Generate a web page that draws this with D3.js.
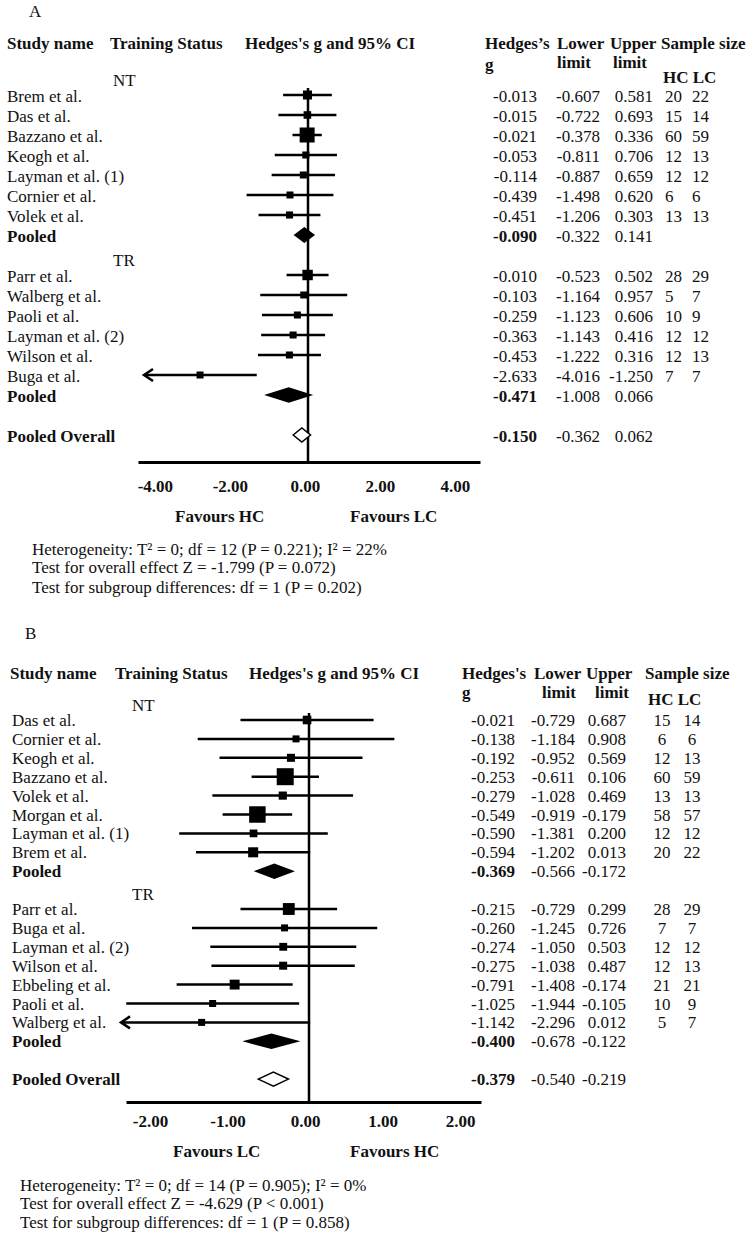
<!DOCTYPE html>
<html>
<head>
<meta charset="utf-8">
<script src="https://cdn.jsdelivr.net/npm/d3@7"></script>
<style>
  body { margin: 0; background: #fff; }
  text { font-family: "Liberation Serif", "Times New Roman", serif; fill: #111; }
</style>
</head>
<body>
<script>
// ---- panel A data (HC vs LC, training status subgroups)
var namesA = ['Brem et al.', 'Das et al.', 'Bazzano et al.', 'Keogh et al.', 'Layman et al. (1)', 'Cornier et al.', 'Volek et al.',
              'Parr et al.', 'Walberg et al.', 'Paoli et al.', 'Layman et al. (2)', 'Wilson et al.', 'Buga et al.'];
var groupsA = ['NT', 'NT', 'NT', 'NT', 'NT', 'NT', 'NT', 'TR', 'TR', 'TR', 'TR', 'TR', 'TR'];
var gA     = [-0.013, -0.015, -0.021, -0.053, -0.114, -0.439, -0.451, -0.010, -0.103, -0.259, -0.363, -0.453, -2.633];
var lowerA = [-0.607, -0.722, -0.378, -0.811, -0.887, -1.498, -1.206, -0.523, -1.164, -1.123, -1.143, -1.222, -4.016];
var upperA = [0.581, 0.693, 0.336, 0.706, 0.659, 0.620, 0.303, 0.502, 0.957, 0.606, 0.416, 0.316, -1.250];
var hcA = [20, 15, 60, 12, 12, 6, 13, 28, 5, 10, 12, 12, 7];
var lcA = [22, 14, 59, 13, 12, 6, 13, 29, 7, 9, 12, 13, 7];
var pooledGroupsA = ['NT', 'TR'];
var pooledGA = [-0.090, -0.471];
var pooledLowerA = [-0.322, -1.008];
var pooledUpperA = [0.141, 0.066];
var overallA = [-0.150, -0.362, 0.062];
var ticksA = [-4, -2, 0, 2, 4];
var favoursA = ['Favours HC', 'Favours LC'];
var notesA = ['Heterogeneity: T\u00b2 = 0; df = 12 (P = 0.221); I\u00b2 = 22%',
              'Test for overall effect Z = -1.799 (P = 0.072)',
              'Test for subgroup differences: df = 1 (P = 0.202)'];

// ---- panel B data
var namesB = ['Das et al.', 'Cornier et al.', 'Keogh et al.', 'Bazzano et al.', 'Volek et al.', 'Morgan et al.', 'Layman et al. (1)', 'Brem et al.',
              'Parr et al.', 'Buga et al.', 'Layman et al. (2)', 'Wilson et al.', 'Ebbeling et al.', 'Paoli et al.', 'Walberg et al.'];
var groupsB = ['NT', 'NT', 'NT', 'NT', 'NT', 'NT', 'NT', 'NT', 'TR', 'TR', 'TR', 'TR', 'TR', 'TR', 'TR'];
var gB     = [-0.021, -0.138, -0.192, -0.253, -0.279, -0.549, -0.590, -0.594, -0.215, -0.260, -0.274, -0.275, -0.791, -1.025, -1.142];
var lowerB = [-0.729, -1.184, -0.952, -0.611, -1.028, -0.919, -1.381, -1.202, -0.729, -1.245, -1.050, -1.038, -1.408, -1.944, -2.296];
var upperB = [0.687, 0.908, 0.569, 0.106, 0.469, -0.179, 0.200, 0.013, 0.299, 0.726, 0.503, 0.487, -0.174, -0.105, 0.012];
var hcB = [15, 6, 12, 60, 13, 58, 12, 20, 28, 7, 12, 12, 21, 10, 5];
var lcB = [14, 6, 13, 59, 13, 57, 12, 22, 29, 7, 12, 13, 21, 9, 7];
var pooledGroupsB = ['NT', 'TR'];
var pooledGB = [-0.369, -0.400];
var pooledLowerB = [-0.566, -0.678];
var pooledUpperB = [-0.172, -0.122];
var overallB = [-0.379, -0.540, -0.219];
var ticksB = [-2, -1, 0, 1, 2];
var favoursB = ['Favours LC', 'Favours HC'];
var notesB = ['Heterogeneity: T\u00b2 = 0; df = 14 (P = 0.905); I\u00b2 = 0%',
              'Test for overall effect Z = -4.629 (P < 0.001)',
              'Test for subgroup differences: df = 1 (P = 0.858)'];

var width = 749;
var height = 1239;

var locale = d3.formatLocale({ decimal: '.', thousands: ',', grouping: [3], currency: ['', ''], minus: '-' });
var fmt3 = locale.format('.3f');
var fmt2 = locale.format('.2f');

var svg = d3.select('body').append('svg')
    .attr('width', width)
    .attr('height', height);

var panelA = {
    letter: 'A', names: namesA, groups: groupsA, g: gA, lower: lowerA, upper: upperA, hc: hcA, lc: lcA,
    pooledGroups: pooledGroupsA, pooledG: pooledGA, pooledLower: pooledLowerA, pooledUpper: pooledUpperA,
    overall: overallA, ticks: ticksA, favours: favoursA, notes: notesA
};
var panelB = {
    letter: 'B', names: namesB, groups: groupsB, g: gB, lower: lowerB, upper: upperB, hc: hcB, lc: lcB,
    pooledGroups: pooledGroupsB, pooledG: pooledGB, pooledLower: pooledLowerB, pooledUpper: pooledUpperB,
    overall: overallB, ticks: ticksB, favours: favoursB, notes: notesB
};

// layout only
var layoutA = {
    letterPos: [29, 17], headY: 49, headX: [7, 110, 245],
    colHead: { hedges: 485, lower: 557, upper: 610, upperLimit: 613, sample: 661, hclc: 663, subY: 68, gY: 70, hclcY: 83 },
    apos: '\u2019',
    nameX: 7, groupX: 113, row0: 95, step: 20, textDy: 7,
    gRight: 537, lowerRight: 600, upperRight: 653, hcX: 665, lcX: 692, sampleAnchor: 'start',
    xDomain: [-4, 4], xRange: [144, 472], axisDomain: [-4.45, 4.67], axisRange: [138, 480],
    axisY: 462, zeroTop: 88, tickPad: 18, maxSide: 15, minSide: 7,
    favX: [175, 350], favY: 522, noteX: 32, noteY: [555, 573, 593]
};
var layoutB = {
    letterPos: [25, 639], headY: 679, headX: [10, 115, 249],
    colHead: { hedges: 462, lower: 534, upper: 586, upperLimit: 595, lowerLimit: 542, sample: 645, hclc: 648, subY: 698, gY: 698, hclcY: 705 },
    apos: "'",
    nameX: 12, groupX: 132, row0: 720, step: 18.9, textDy: 6,
    gRight: 515, lowerRight: 575, upperRight: 626, hcX: 662, lcX: 692, sampleAnchor: 'middle',
    xDomain: [-2, 2], xRange: [121, 497], axisDomain: [-2.31, 2.27], axisRange: [126, 481],
    axisY: 1102, zeroTop: 713, tickPad: 13, maxSide: 17, minSide: 7,
    favX: [173, 350], favY: 1157, noteX: 20, noteY: [1191, 1209, 1228]
};

drawPanel(panelA, layoutA);
drawPanel(panelB, layoutB);

function buildRows(p) {
    var rows = [];
    var slot = 0;
    p.pooledGroups.forEach(function(grp, gi) {
        rows.push({ kind: 'group', name: grp, slot: slot - 0.82 });
        p.names.forEach(function(n, i) {
            if (p.groups[i] !== grp) return;
            rows.push({ kind: 'study', name: n, g: p.g[i], lo: p.lower[i], hi: p.upper[i], hc: p.hc[i], lc: p.lc[i], slot: slot++ });
        });
        rows.push({ kind: 'pooled', name: 'Pooled', g: p.pooledG[gi], lo: p.pooledLower[gi], hi: p.pooledUpper[gi], slot: slot++ });
        slot += 1;
    });
    rows.push({ kind: 'overall', name: 'Pooled Overall', g: p.overall[0], lo: p.overall[1], hi: p.overall[2], slot: slot });
    return rows;
}

function drawPanel(p, L) {
    var root = svg.append('g');
    var rows = buildRows(p);
    var studies = rows.filter(function(r) { return r.kind === 'study'; });
    var withValues = rows.filter(function(r) { return r.kind !== 'group'; });

    var x = d3.scaleLinear().domain(L.xDomain).range(L.xRange);
    var xAxisScale = d3.scaleLinear().domain(L.axisDomain).range(L.axisRange);
    var y = d3.scaleLinear().domain([0, 1]).range([L.row0, L.row0 + L.step]);

    // box area proportional to inverse-variance weight
    var weight = function(r) { var se = (r.hi - r.lo) / 3.92; return 1 / (se * se); };
    var side = d3.scaleSqrt()
        .domain([0, d3.max(studies, weight)])
        .range([0, L.maxSide]);
    var boxSize = function(d) { return Math.max(side(weight(d)), L.minSide); };

    // panel letter
    root.append('text').attr('x', L.letterPos[0]).attr('y', L.letterPos[1])
        .attr('font-size', 17).text(p.letter);

    // headers
    var heads = ['Study name', 'Training Status', 'Hedges' + "'" + 's g and 95% CI'];
    root.selectAll('text.head').data(heads).enter().append('text')
        .attr('class', 'head')
        .attr('x', function(d, i) { return L.headX[i]; })
        .attr('y', L.headY)
        .attr('font-size', 17).attr('font-weight', 'bold')
        .text(function(d) { return d; });

    var c = L.colHead;
    var colHeads = [
        { t: 'Hedges' + L.apos + 's', x: c.hedges, y: L.headY },
        { t: 'g', x: c.hedges, y: c.gY },
        { t: 'Lower', x: c.lower, y: L.headY },
        { t: 'limit', x: c.lowerLimit || c.lower, y: c.subY },
        { t: 'Upper', x: c.upper, y: L.headY },
        { t: 'limit', x: c.upperLimit, y: c.subY },
        { t: 'Sample size', x: c.sample, y: L.headY },
        { t: 'HC LC', x: c.hclc, y: c.hclcY }
    ];
    root.selectAll('text.colhead').data(colHeads).enter().append('text')
        .attr('class', 'colhead')
        .attr('x', function(d) { return d.x; })
        .attr('y', function(d) { return d.y; })
        .attr('font-size', 17).attr('font-weight', 'bold')
        .text(function(d) { return d.t; });

    // row labels
    root.selectAll('text.rowname').data(rows).enter().append('text')
        .attr('class', 'rowname')
        .attr('x', function(d) { return d.kind === 'group' ? L.groupX : L.nameX; })
        .attr('y', function(d) { return y(d.slot) + L.textDy; })
        .attr('font-size', 17)
        .attr('font-weight', function(d) { return d.kind === 'pooled' || d.kind === 'overall' ? 'bold' : null; })
        .text(function(d) { return d.name; });

    // value columns
    var cols = [
        { key: 'g', x: L.gRight, boldPooled: true },
        { key: 'lo', x: L.lowerRight },
        { key: 'hi', x: L.upperRight }
    ];
    cols.forEach(function(col) {
        root.selectAll('text.val-' + col.key).data(withValues).enter().append('text')
            .attr('class', 'val-' + col.key)
            .attr('x', col.x)
            .attr('y', function(d) { return y(d.slot) + L.textDy; })
            .attr('text-anchor', 'end')
            .attr('font-size', 17)
            .attr('font-weight', function(d) { return col.boldPooled && d.kind !== 'study' ? 'bold' : null; })
            .text(function(d) { return fmt3(d[col.key]); });
    });
    [['hc', L.hcX], ['lc', L.lcX]].forEach(function(s) {
        root.selectAll('text.n-' + s[0]).data(studies).enter().append('text')
            .attr('class', 'n-' + s[0])
            .attr('x', s[1])
            .attr('y', function(d) { return y(d.slot) + L.textDy; })
            .attr('text-anchor', L.sampleAnchor)
            .attr('font-size', 17)
            .text(function(d) { return d[s[0]]; });
    });

    // zero line
    root.append('line')
        .attr('x1', x(0)).attr('x2', x(0))
        .attr('y1', L.zeroTop).attr('y2', L.axisY)
        .attr('stroke', '#000').attr('stroke-width', 2.5);

    // confidence intervals
    var xmin = L.xDomain[0], xmax = L.xDomain[1];
    root.selectAll('line.ci').data(studies).enter().append('line')
        .attr('class', 'ci')
        .attr('x1', function(d) { return x(Math.max(d.lo, xmin)); })
        .attr('x2', function(d) { return x(Math.min(d.hi, xmax)); })
        .attr('y1', function(d) { return y(d.slot); })
        .attr('y2', function(d) { return y(d.slot); })
        .attr('stroke', '#000').attr('stroke-width', 2.5);

    // arrows where the interval runs off the scale
    root.selectAll('path.arrow').data(studies.filter(function(d) { return d.lo < xmin; })).enter().append('path')
        .attr('class', 'arrow')
        .attr('d', function(d) {
            var ax = x(xmin), ay = y(d.slot);
            return 'M' + (ax + 9) + ',' + (ay - 6) + 'L' + ax + ',' + ay + 'L' + (ax + 9) + ',' + (ay + 6);
        })
        .attr('fill', 'none').attr('stroke', '#000').attr('stroke-width', 2.5);

    // study boxes
    root.selectAll('rect.box').data(studies).enter().append('rect')
        .attr('class', 'box')
        .attr('x', function(d) { return x(d.g) - boxSize(d) / 2; })
        .attr('y', function(d) { return y(d.slot) - boxSize(d) / 2; })
        .attr('width', boxSize)
        .attr('height', boxSize)
        .attr('fill', '#000');

    // pooled diamonds
    var diamonds = rows.filter(function(r) { return r.kind === 'pooled' || r.kind === 'overall'; });
    root.selectAll('path.diamond').data(diamonds).enter().append('path')
        .attr('class', 'diamond')
        .attr('d', function(d) {
            var cy = y(d.slot), h = 7;
            return 'M' + x(d.lo) + ',' + cy + 'L' + x(d.g) + ',' + (cy - h) +
                   'L' + x(d.hi) + ',' + cy + 'L' + x(d.g) + ',' + (cy + h) + 'Z';
        })
        .attr('fill', function(d) { return d.kind === 'overall' ? '#fff' : '#000'; })
        .attr('stroke', '#000').attr('stroke-width', 1.5);

    // axis
    var axis = d3.axisBottom(xAxisScale)
        .tickValues(p.ticks)
        .tickFormat(fmt2)
        .tickSize(0)
        .tickSizeOuter(0)
        .tickPadding(L.tickPad);
    var ax = root.append('g')
        .attr('transform', 'translate(0,' + L.axisY + ')')
        .call(axis);
    ax.attr('font-size', 17).attr('font-family', null);
    ax.select('.domain').attr('stroke', '#000').attr('stroke-width', 3);
    ax.selectAll('text').attr('font-weight', 'bold').attr('fill', '#111');

    // favours labels
    root.selectAll('text.fav').data(p.favours).enter().append('text')
        .attr('class', 'fav')
        .attr('x', function(d, i) { return L.favX[i]; })
        .attr('y', L.favY)
        .attr('font-size', 17).attr('font-weight', 'bold')
        .text(function(d) { return d; });

    // footnotes
    root.selectAll('text.note').data(p.notes).enter().append('text')
        .attr('class', 'note')
        .attr('x', L.noteX)
        .attr('y', function(d, i) { return L.noteY[i]; })
        .attr('font-size', 17)
        .text(function(d) { return d; });
}
</script>
</body>
</html>
